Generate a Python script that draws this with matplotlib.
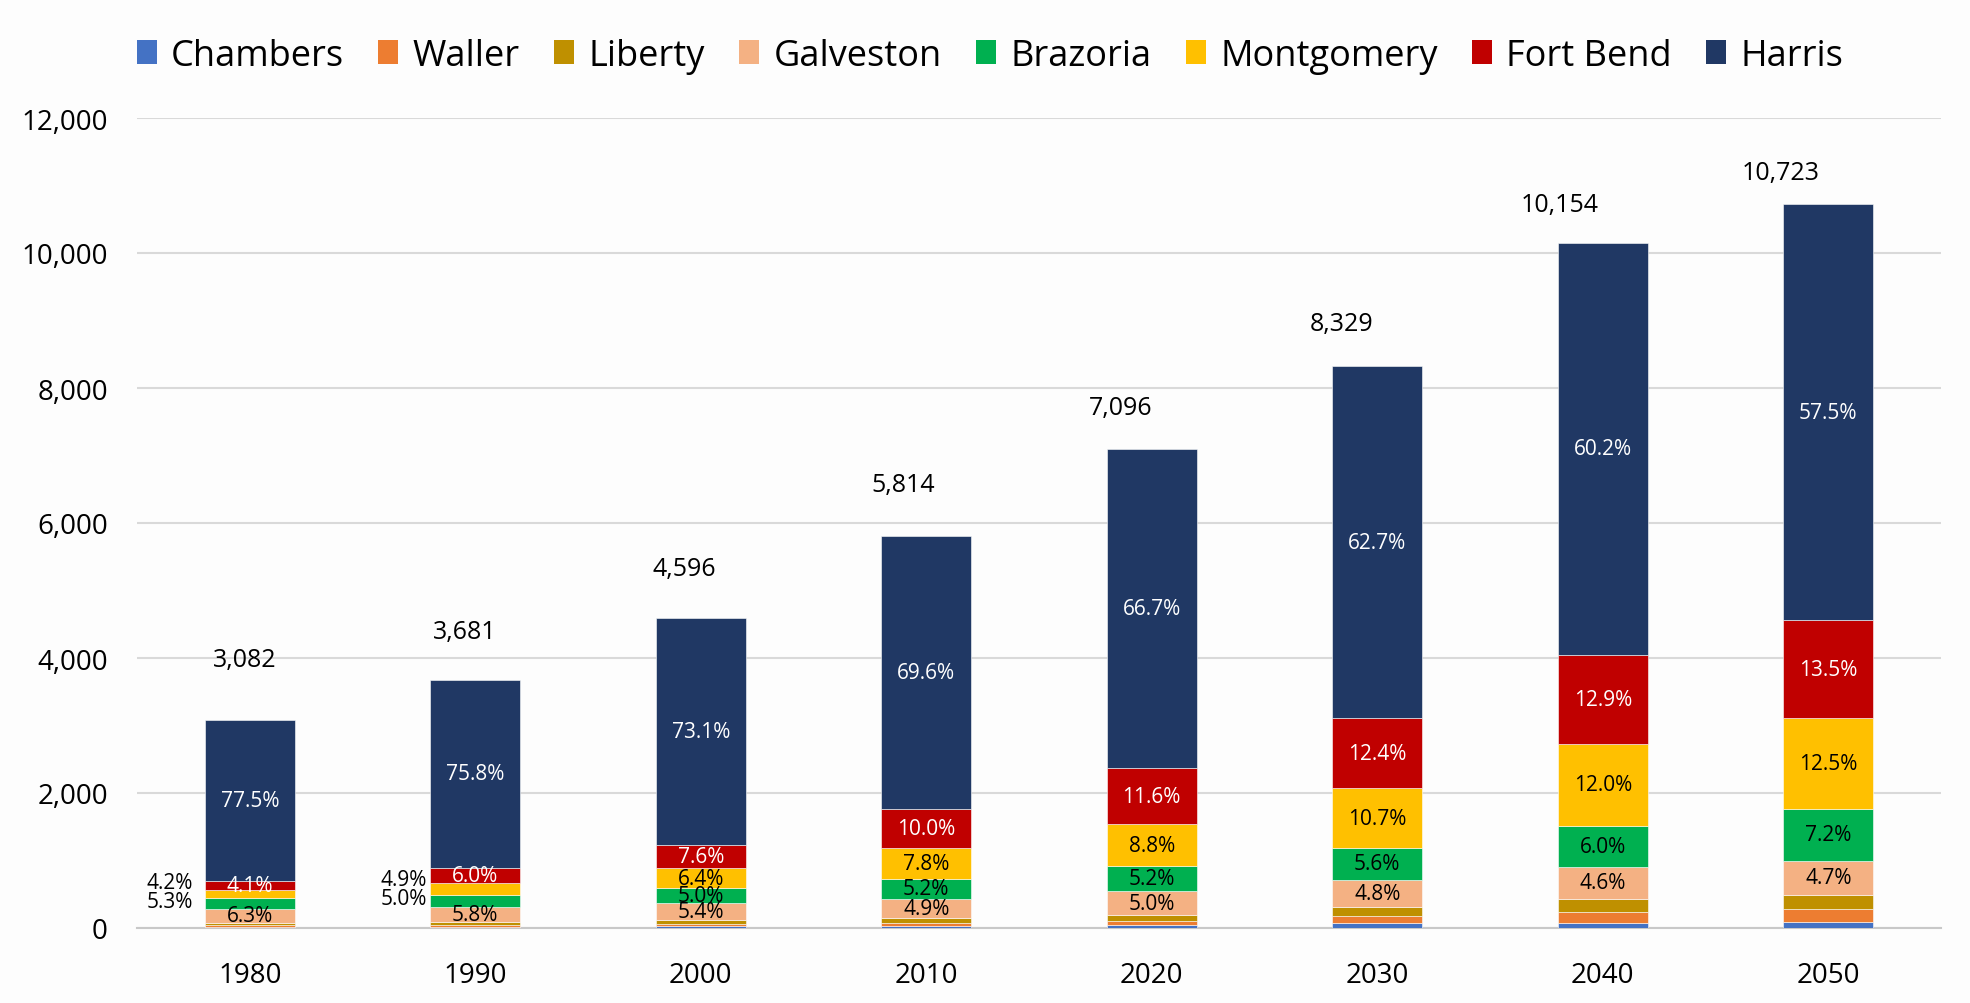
import numpy as np
import matplotlib
matplotlib.use('Agg')
import matplotlib.pyplot as plt
from matplotlib.patches import Patch

plt.rcParams['font.family'] = ['Open Sans', 'DejaVu Sans']

# population in thousands, stacked bottom -> top
years = ['1980', '1990', '2000', '2010', '2020', '2030', '2040', '2050']
counties = ['Chambers', 'Waller', 'Liberty', 'Galveston', 'Brazoria',
            'Montgomery', 'Fort Bend', 'Harris']
chambers = [19, 20, 24, 31, 45, 72, 79, 95]
waller = [20, 22, 29, 38, 56, 110, 163, 193]
liberty = [42, 50, 62, 76, 91, 135, 195, 205]
galveston = [194, 213, 248, 285, 355, 400, 467, 504]
brazoria = [163, 184, 230, 302, 369, 466, 609, 772]
montgomery = [129, 180, 294, 454, 624, 891, 1218, 1340]
fort_bend = [126, 221, 349, 581, 823, 1033, 1310, 1448]
harris = [2389, 2791, 3360, 4047, 4733, 5222, 6113, 6166]

series = [chambers, waller, liberty, galveston, brazoria, montgomery, fort_bend, harris]
colors = ['#4472C4', '#ED7D31', '#BF9000', '#F4B183', '#00B050',
          '#FFC000', '#C00000', '#203864']
labelled = ['Galveston', 'Brazoria', 'Montgomery', 'Fort Bend', 'Harris']
white_text = ['Fort Bend', 'Harris']

# layout tweaks (pixels) for the total labels, as placed in the original
total_dx = [-5, -11, -16, -23, -31, -36, -43, -48]
total_dy = [60, 48, 49, 51, 42, 42, 38, 32]
# small segments in the first two bars get their label outside, left of the bar
outside = {(0, 'Montgomery'): (12, 12), (0, 'Brazoria'): (12, 2),
           (1, 'Montgomery'): (3, 9), (1, 'Brazoria'): (3, 3)}

PX = 0.72  # px -> pt at dpi 100

fig = plt.figure(figsize=(19.7, 10.04), dpi=100, facecolor='#FDFDFD')
ax = fig.add_axes([137 / 1970, 75 / 1004, 1804 / 1970, 810 / 1004])
ax.set_facecolor('#FDFDFD')

x = np.arange(len(years))
width = 0.4
totals = np.sum(np.array(series), axis=0)
bottom = np.zeros(len(years))

for name, vals, col in zip(counties, series, colors):
    vals = np.array(vals, dtype=float)
    ax.bar(x, vals, width, bottom=bottom, color=col, edgecolor='#FDFDFD',
           linewidth=0.4, zorder=3)
    if name in labelled:
        tc = 'white' if name in white_text else 'black'
        for i in range(len(years)):
            mid = bottom[i] + vals[i] / 2
            txt = f'{vals[i] / totals[i] * 100:.1f}%'
            if (i, name) in outside:
                gap, dy = outside[(i, name)]
                ax.annotate(txt, xy=(x[i] - width / 2, mid),
                            xytext=(-gap * PX, dy * PX), textcoords='offset points',
                            ha='right', va='center', fontsize=15, color='black', zorder=5)
            else:
                ax.text(x[i], mid, txt, ha='center', va='center', fontsize=15,
                        color=tc, zorder=5)
    bottom += vals

for i in range(len(years)):
    ax.annotate(f'{int(totals[i]):,}', xy=(x[i], totals[i]),
                xytext=(total_dx[i] * PX, total_dy[i] * PX), textcoords='offset points',
                ha='center', va='center', fontsize=18, color='black')

ax.set_xlim(-0.5, len(years) - 0.5)
ax.set_ylim(0, 12000)
ax.set_yticks(np.arange(0, 12001, 2000))
ax.set_yticklabels([f'{v:,}' for v in range(0, 12001, 2000)])
ax.set_xticks(x)
ax.set_xticklabels(years)
ax.tick_params(axis='y', length=0, pad=21, labelsize=20)
ax.tick_params(axis='x', length=0, pad=24, labelsize=20)

ax.grid(axis='y', color='#D9D9D9', linewidth=1.5, zorder=0)
for s in ['top', 'right', 'left']:
    ax.spines[s].set_visible(False)
ax.spines['bottom'].set_color('#C8C8C8')
ax.spines['bottom'].set_linewidth(1.5)

handles = [Patch(facecolor=c, edgecolor='none') for c in colors]
fig.legend(handles, counties, loc='center', bbox_to_anchor=(990 / 1970, 1 - 57 / 1004),
           ncol=len(counties), frameon=False, fontsize=26, handlelength=0.55,
           handleheight=0.65, handletextpad=0.4, columnspacing=0.95)

fig.savefig('out.png', dpi=100, facecolor=fig.get_facecolor())
